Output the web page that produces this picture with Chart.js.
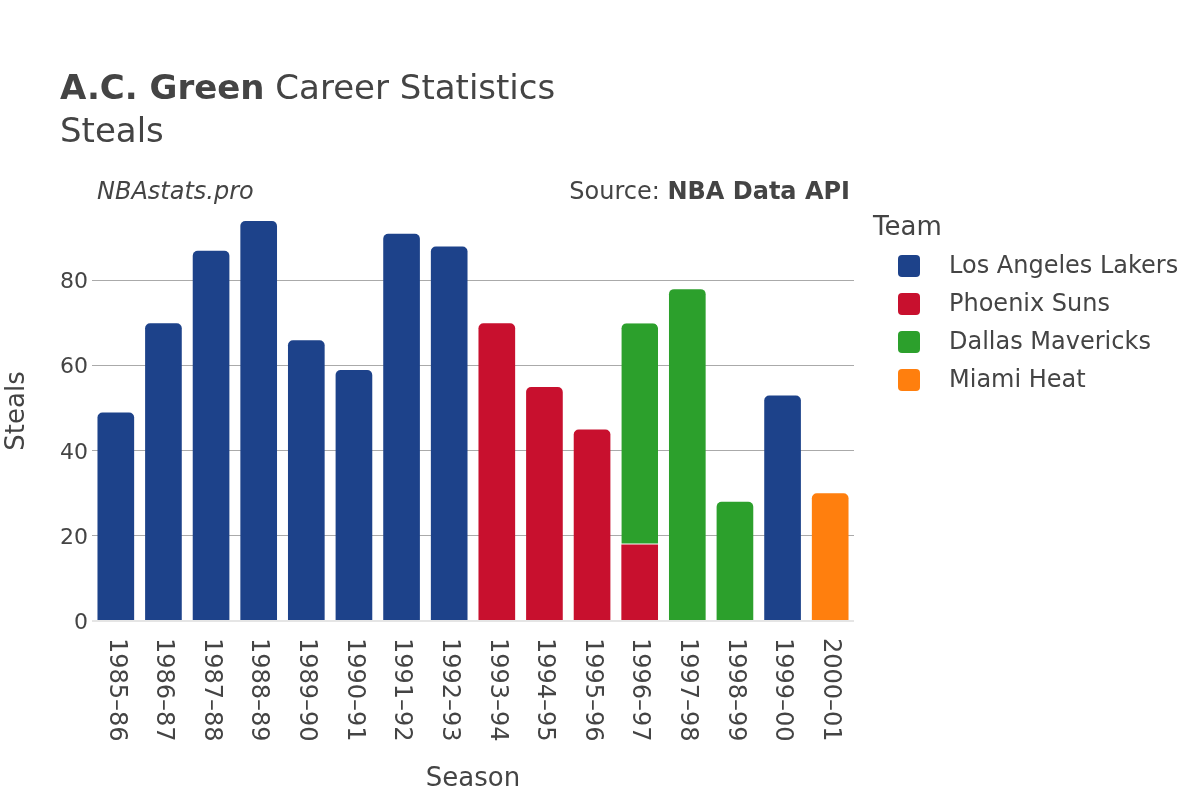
<!DOCTYPE html>
<html lang="en">
<head>
    <meta charset="UTF-8">
    <title>A.C. Green Career Statistics - Steals</title>
    <script src="https://cdn.jsdelivr.net/npm/chart.js"></script>
    <style>
        html, body { margin: 0; padding: 0; background: #fff; }
        #wrap { width: 1200px; height: 800px; position: relative; }
    </style>
</head>
<body>
<div id="wrap"><canvas id="myChart" width="1200" height="800"></canvas></div>

<script>
    // seasons on the x axis
    const seasons = ['1985–86', '1986–87', '1987–88', '1988–89', '1989–90', '1990–91', '1991–92', '1992–93',
                     '1993–94', '1994–95', '1995–96', '1996–97', '1997–98', '1998–99', '1999–00', '2000–01'];

    // steals per team, null where he did not play for them
    const lakers    = [49, 70, 87, 94, 66, 59, 91, 88, null, null, null, null, null, null, 53, null];
    const suns      = [null, null, null, null, null, null, null, null, 70, 55, 45, 18, null, null, null, null];
    const mavericks = [null, null, null, null, null, null, null, null, null, null, null, 52, 78, 28, null, null];
    const heat      = [null, null, null, null, null, null, null, null, null, null, null, null, null, null, null, 30];

    const teamNames  = ['Los Angeles Lakers', 'Phoenix Suns', 'Dallas Mavericks', 'Miami Heat'];
    const teamColors = ['#1d428a', '#c8102e', '#2ca02c', '#ff7f0e'];
    const yTicks = [0, 20, 40, 60, 80];

    const series = [lakers, suns, mavericks, heat];
    const FONT = '"DejaVu Sans", "Open Sans", sans-serif';

    // is there another team stacked on top of this one in that season?
    function hasAbove(dsIndex, i) {
        for (let k = dsIndex + 1; k < series.length; k++) {
            if (series[k][i]) return true;
        }
        return false;
    }
    function hasBelow(dsIndex, i) {
        for (let k = 0; k < dsIndex; k++) {
            if (series[k][i]) return true;
        }
        return false;
    }

    const datasets = series.map((vals, d) => ({
        label: teamNames[d],
        data: vals,
        backgroundColor: teamColors[d],
        borderColor: '#ffffff',
        borderWidth: ctx => hasBelow(d, ctx.dataIndex) ? {top: 0, left: 0, right: 0, bottom: 1} : 0,
        borderSkipped: false,
        borderRadius: ctx => hasAbove(d, ctx.dataIndex) ? 0 : {topLeft: 5, topRight: 5, bottomLeft: 0, bottomRight: 0},
        categoryPercentage: 1,
        barPercentage: 0.77
    }));

    // titles, legend and rotated season labels drawn by hand
    const decorations = {
        id: 'decorations',
        afterDraw(chart) {
            const c = chart.ctx;
            const xs = chart.scales.x;
            c.save();
            c.fillStyle = '#444';
            c.textBaseline = 'middle';
            c.textAlign = 'left';

            // title
            c.font = 'bold 34px ' + FONT;
            c.fillText('A.C. Green', 60, 90);
            const w = c.measureText('A.C. Green').width;
            c.font = '34px ' + FONT;
            c.fillText(' Career Statistics', 60 + w, 90);
            c.fillText('Steals', 60, 133);

            // credits
            c.font = 'italic 24px ' + FONT;
            c.fillText('NBAstats.pro', 97, 193);
            c.textAlign = 'right';
            c.font = 'bold 24px ' + FONT;
            c.fillText('NBA Data API', 850, 193);
            const bw = c.measureText('NBA Data API').width;
            c.font = '24px ' + FONT;
            c.fillText('Source: ', 850 - bw, 193);

            // legend
            c.textAlign = 'left';
            c.font = '26px ' + FONT;
            c.fillText('Team', 873, 228);
            c.font = '24px ' + FONT;
            chart.data.datasets.forEach((ds, k) => {
                const yy = 266 + k * 38;
                c.fillStyle = ds.backgroundColor;
                c.beginPath();
                c.roundRect(898, yy - 11, 22, 22, 4);
                c.fill();
                c.fillStyle = '#444';
                c.fillText(ds.label, 949, yy + 1);
            });

            // season labels, reading top to bottom
            c.font = '24px ' + FONT;
            seasons.forEach((s, i) => {
                const px = xs.getPixelForValue(i);
                c.save();
                c.translate(px, 638);
                c.rotate(Math.PI / 2);
                c.textAlign = 'left';
                c.textBaseline = 'middle';
                c.fillText(s, 0, 0);
                c.restore();
            });

            // axis titles
            c.textAlign = 'center';
            c.font = '26px ' + FONT;
            c.fillText('Season', 473, 779);
            c.save();
            c.translate(17, 411);
            c.rotate(-Math.PI / 2);
            c.fillText('Steals', 0, 0);
            c.restore();
            c.restore();
        }
    };

    new Chart(document.getElementById('myChart'), {
        type: 'bar',
        data: { labels: seasons, datasets: datasets },
        options: {
            responsive: false,
            animation: false,
            layout: { padding: { left: 0, top: 200, right: 346, bottom: 0 } },
            plugins: { legend: { display: false }, title: { display: false }, tooltip: { enabled: false } },
            scales: {
                x: {
                    stacked: true,
                    grid: { display: false },
                    border: { display: false },
                    ticks: { display: false },
                    afterFit: s => { s.height = 179; }
                },
                y: {
                    stacked: true,
                    min: 0,
                    max: 98.95,
                    border: { display: false },
                    afterBuildTicks: s => { s.ticks = yTicks.map(v => ({ value: v })); },
                    afterFit: s => { s.width = 92; },
                    grid: {
                        drawTicks: false,
                        color: ctx => ctx.tick && ctx.tick.value === 0 ? '#e5e5e5' : '#aaaaaa',
                        lineWidth: ctx => ctx.tick && ctx.tick.value === 0 ? 2 : 1
                    },
                    ticks: {
                        padding: 4,
                        labelOffset: 2,
                        color: '#444',
                        font: { family: FONT, size: 22 }
                    }
                }
            }
        },
        plugins: [decorations]
    });
</script>
</body>
</html>
